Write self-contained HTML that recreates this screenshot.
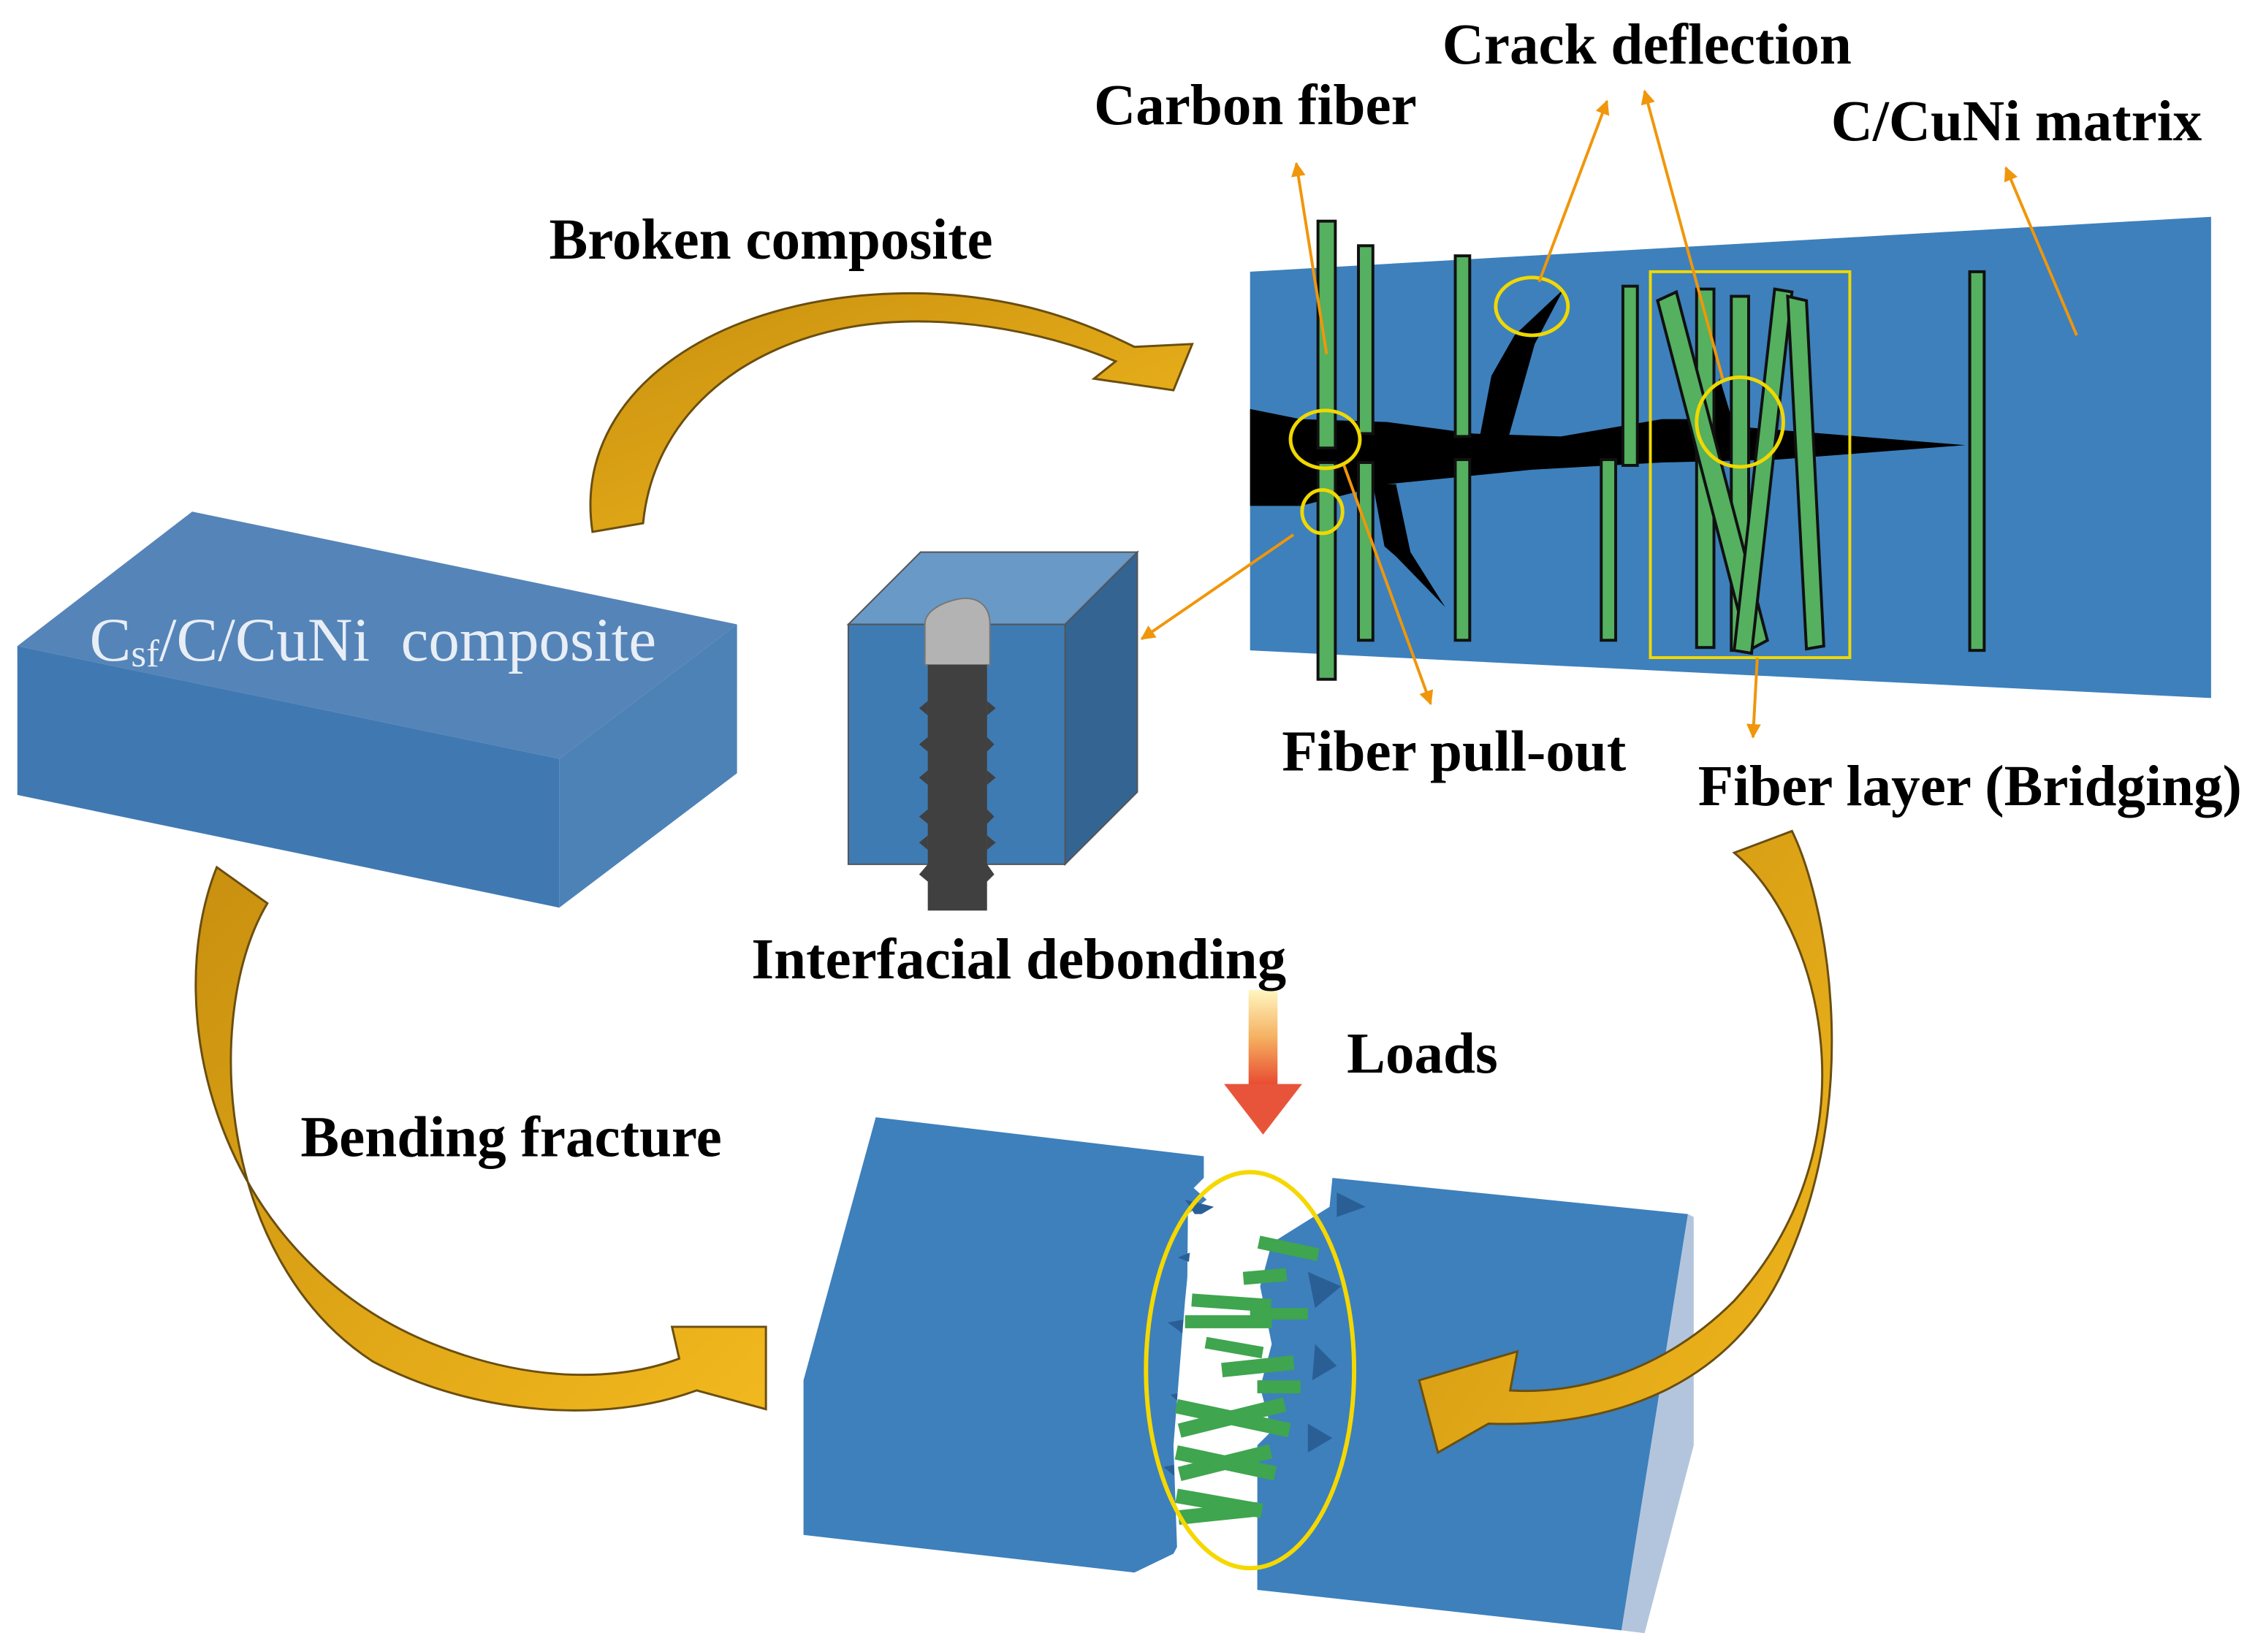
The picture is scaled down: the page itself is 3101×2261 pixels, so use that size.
<!DOCTYPE html>
<html><head><meta charset="utf-8"><style>
html,body{margin:0;padding:0;background:#fff;}
svg{display:block;}
text{font-family:"Liberation Serif",serif;font-weight:bold;fill:#000;}
</style></head><body>
<svg width="3101" height="2261" viewBox="0 0 1568 1143" preserveAspectRatio="none" xmlns="http://www.w3.org/2000/svg">
<defs>
<linearGradient id="gold" x1="0" y1="0" x2="1" y2="1">
<stop offset="0" stop-color="#c8900f"/><stop offset="1" stop-color="#f2b81e"/>
</linearGradient>
<linearGradient id="load" x1="0" y1="0" x2="0" y2="1">
<stop offset="0" stop-color="#fff6c0"/><stop offset="0.5" stop-color="#f5b060"/><stop offset="1" stop-color="#e84a30"/>
</linearGradient>
<marker id="ah" viewBox="0 0 10 10" refX="9" refY="5" markerWidth="5" markerHeight="5" orient="auto">
<path d="M0,0 L10,5 L0,10 Z" fill="#f0960a"/>
</marker>
</defs>

<!-- composite block -->
<polygon points="12,447 133,354 510,432 387,525" fill="#5584b8"/>
<polygon points="12,447 387,525 387,628 12,550" fill="#4079b2"/>
<polygon points="387,525 510,432 510,535 387,628" fill="#4d82b6"/>
<text x="62" y="457" font-size="43" style="font-weight:normal;fill:#e8eef6">C<tspan font-size="27" dy="4">sf</tspan><tspan dy="-4">/C/CuNi&#160;&#160;composite</tspan></text>

<!-- gold arrows -->
<path d="M410,368 C395,270 500,200 640,203 C700,205 745,220 785,240 L825,238 L812,270 L757,262 L772,250 C720,228 650,216 590,226 C510,240 452,290 445,362 Z" fill="url(#gold)" stroke="#6a4e10" stroke-width="1.5"/>
<path d="M150,600 C110,700 150,870 300,930 C370,958 430,955 470,940 L465,918 L530,918 L530,975 L482,962 C420,985 330,980 258,942 C150,872 140,700 185,625 Z" fill="url(#gold)" stroke="#6a4e10" stroke-width="1.5"/>

<!-- right panel -->
<polygon points="865,188 1530,150 1530,483 865,450" fill="#3d80bc"/>
<path d="M865,283 L900,290 L960,292 L1020,300 L1080,302 L1150,290 L1175,290 L1190,262 L1200,295 L1360,308 L1230,318 L1150,320 L1060,325 L960,335 L940,340 L900,350 L865,350 Z" fill="#000"/>
<polygon points="1024,302 1032,260 1048,232 1082,200 1062,238 1044,302" fill="#000"/>
<polygon points="950,335 958,378 966,385 1000,420 976,382 966,335" fill="#000"/>
<g fill="#55b060" stroke="#111" stroke-width="2">
<rect x="912" y="153" width="12" height="157"/>
<rect x="912" y="320" width="12" height="150"/>
<rect x="940" y="170" width="10" height="130"/>
<rect x="940" y="320" width="10" height="123"/>
<rect x="1007" y="177" width="10" height="125"/>
<rect x="1007" y="318" width="10" height="125"/>
<rect x="1123" y="198" width="10" height="124"/>
<rect x="1108" y="318" width="10" height="125"/>
<rect x="1174" y="200" width="12" height="248"/>
<rect x="1198" y="205" width="12" height="245"/>
<rect x="1363" y="188" width="10" height="262"/>
<polygon points="1147,208 1160,202 1223,443 1210,450"/>
<polygon points="1228,200 1240,202 1212,452 1200,450"/>
<polygon points="1237,205 1250,208 1262,447 1250,449"/>
</g>
<rect x="1142" y="188" width="138" height="267" fill="none" stroke="#f0d800" stroke-width="2"/>
<g fill="none" stroke="#f0d800" stroke-width="2.5">
<ellipse cx="917" cy="304" rx="24" ry="20"/>
<ellipse cx="915" cy="354" rx="14" ry="15"/>
<ellipse cx="1060" cy="212" rx="25" ry="20"/>
<ellipse cx="1204" cy="292" rx="30" ry="31"/>
</g>
<g stroke="#f0960a" stroke-width="2" fill="none" marker-end="url(#ah)">
<line x1="918" y1="245" x2="897" y2="113"/>
<line x1="1065" y1="195" x2="1112" y2="70"/>
<line x1="1192" y1="262" x2="1138" y2="63"/>
<line x1="1437" y1="232" x2="1388" y2="116"/>
<line x1="930" y1="322" x2="990" y2="487"/>
<line x1="1216" y1="455" x2="1213" y2="510"/>
<line x1="895" y1="370" x2="790" y2="442"/>
</g>

<!-- debonding cube -->
<polygon points="587,432 637,382 787,382 737,432" fill="#6899c7" stroke="#555" stroke-width="1"/>
<polygon points="737,432 787,382 787,548 737,598" fill="#346492" stroke="#555" stroke-width="1"/>
<rect x="587" y="432" width="150" height="166" fill="#3e7bb3" stroke="#555" stroke-width="1"/>
<path d="M640,460 L640,432 C640,420 660,414 668,414 C678,414 685,420 685,432 L685,460 Z" fill="#b3b3b3" stroke="#777"/>
<path d="M642,460 L683,460 L683,510 L688,515 L683,520 L683,560 L688,565 L683,570 L683,598 L688,605 L683,610 L683,630 L642,630 L642,610 L636,605 L642,598 L642,570 L636,565 L642,560 L642,520 L636,515 L642,510 Z" fill="#404040"/>
<g fill="#404040">
<polygon points="636,490 642,485 642,495"/><polygon points="689,490 683,485 683,495"/>
<polygon points="636,538 642,533 642,543"/><polygon points="689,538 683,533 683,543"/>
<polygon points="636,583 642,578 642,588"/><polygon points="689,583 683,578 683,588"/>
</g>

<!-- loads arrow -->
<rect x="864" y="685" width="20" height="66" fill="url(#load)"/>
<polygon points="847,750 901,750 874,785" fill="#e8543a"/>

<!-- bottom broken specimen -->
<polygon points="606,773 833,800 833,815 826,822 835,830 822,840 820,1060 812,1075 785,1088 556,1062 556,955" fill="#3d80bc"/>
<polygon points="922,815 1168,840 1122,1128 870,1100 870,1000 880,990 872,960 880,930 872,890 880,860 920,835" fill="#3d80bc"/>
<polygon points="1168,840 1172,842 1172,1000 1138,1130 1122,1128" fill="#b3c5dc"/>
<g fill="#2a5f95">
<polygon points="820,830 840,835 828,842"/><polygon points="925,825 945,835 925,842"/>
<polygon points="815,870 840,860 840,880"/><polygon points="905,880 928,890 910,905"/>
<polygon points="808,915 835,910 835,935"/><polygon points="910,930 925,945 908,955"/>
<polygon points="810,965 835,960 832,985"/><polygon points="905,985 922,995 905,1005"/>
<polygon points="805,1015 830,1010 830,1035"/>
</g>
<polygon points="826,840 870,840 870,1085 815,1085 812,1000 820,900" fill="#fff"/>
<g fill="#3fa54e">
<rect x="872" y="855" width="42" height="9" transform="rotate(12 872 855)"/>
<rect x="860" y="880" width="30" height="9" transform="rotate(-5 860 880)"/>
<rect x="865" y="905" width="40" height="8"/>
<rect x="825" y="895" width="55" height="9" transform="rotate(4 825 895)"/>
<rect x="820" y="910" width="60" height="9"/>
<rect x="835" y="925" width="40" height="8" transform="rotate(10 835 925)"/>
<rect x="845" y="943" width="50" height="10" transform="rotate(-6 845 943)"/>
<rect x="870" y="955" width="30" height="9"/>
<rect x="815" y="968" width="80" height="10" transform="rotate(12 815 968)"/>
<rect x="815" y="985" width="75" height="10" transform="rotate(-14 815 985)"/>
<rect x="815" y="1000" width="70" height="10" transform="rotate(12 815 1000)"/>
<rect x="815" y="1015" width="65" height="10" transform="rotate(-14 815 1015)"/>
<rect x="815" y="1030" width="60" height="10" transform="rotate(10 815 1030)"/>
<rect x="815" y="1045" width="55" height="10" transform="rotate(-6 815 1045)"/>
</g>
<ellipse cx="865" cy="948" rx="72" ry="137" fill="none" stroke="#f5d800" stroke-width="3"/>

<!-- right gold arrow, drawn over block -->
<path d="M1200,590 C1260,640 1300,790 1200,900 C1150,950 1090,965 1045,962 L1050,935 L982,955 L995,1005 L1030,985 C1110,988 1200,962 1238,870 C1290,750 1262,620 1240,575 Z" fill="url(#gold)" stroke="#6a4e10" stroke-width="1.5"/>

<!-- labels -->
<text x="380" y="179" font-size="40">Broken composite</text>
<text x="757" y="86" font-size="40">Carbon fiber</text>
<text x="998" y="44" font-size="40">Crack deflection</text>
<text x="1267" y="97" font-size="40">C/CuNi matrix</text>
<text x="887" y="533" font-size="40">Fiber pull-out</text>
<text x="1175" y="557" font-size="40">Fiber layer (Bridging)</text>
<text x="520" y="677" font-size="40">Interfacial debonding</text>
<text x="932" y="742" font-size="40">Loads</text>
<text x="208" y="800" font-size="40">Bending fracture</text>
</svg>
</body></html>
